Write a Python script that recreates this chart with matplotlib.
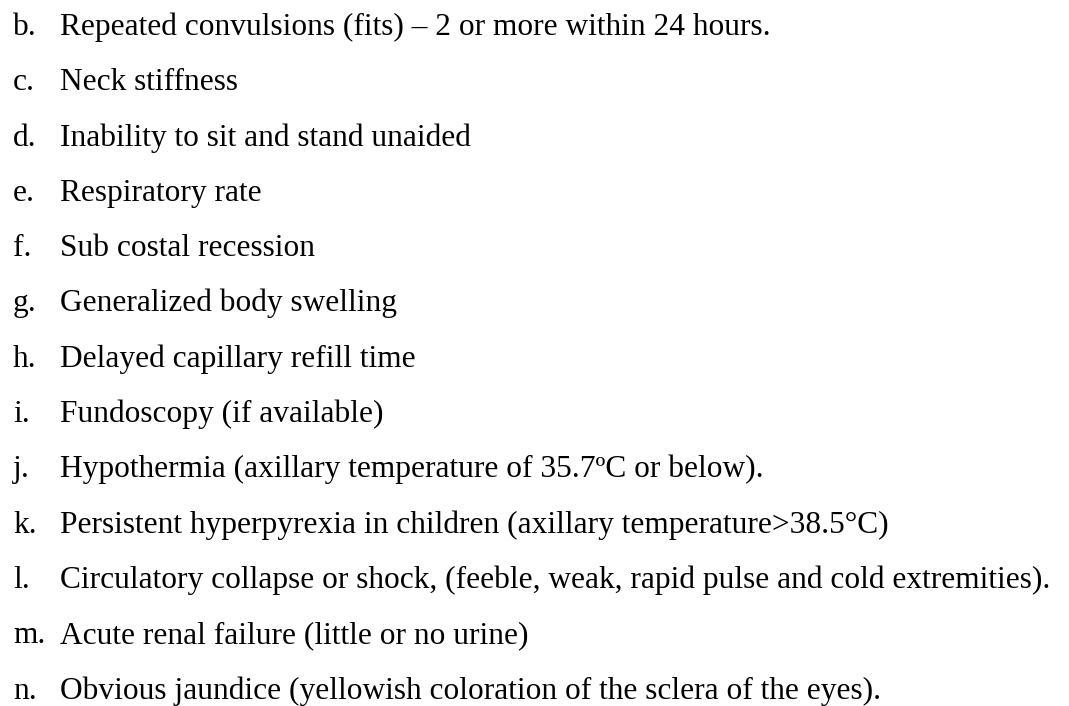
"""
Danger signs list — text-only figure, rendered as a numbered list.
"""
import matplotlib.pyplot as plt

plt.rcParams['font.family'] = ['Liberation Serif', 'DejaVu Serif']

INK = '#000000'

# ── 데이터 ───────────────────────────────────────────────────
letters = ['b.', 'c.', 'd.', 'e.', 'f.', 'g.', 'h.', 'i.', 'j.', 'k.', 'l.', 'm.', 'n.']
items = [
    'Repeated convulsions (fits) \u2013 2 or more within 24 hours.',
    'Neck stiffness',
    'Inability to sit and stand unaided',
    'Respiratory rate',
    'Sub costal recession',
    'Generalized body swelling',
    'Delayed capillary refill time',
    'Fundoscopy (if available)',
    'Hypothermia (axillary temperature of 35.7\u00baC or below).',
    'Persistent hyperpyrexia in children (axillary temperature>38.5\u00b0C)',
    'Circulatory collapse or shock, (feeble, weak, rapid pulse and cold extremities).',
    'Acute renal failure (little or no urine)',
    'Obvious jaundice (yellowish coloration of the sclera of the eyes).',
]

fig = plt.figure(figsize=(10.69, 7.06), dpi=100, facecolor='white')
ax = fig.add_axes([0, 0, 1, 1])
ax.set_xlim(0, 1069)
ax.set_ylim(706, 0)
ax.axis('off')

first, step = 35, 55.3
for i, (lab, txt) in enumerate(zip(letters, items)):
    yb = first + i * step
    ax.text(13, yb, lab, fontsize=22.6, color=INK, va='baseline', ha='left')
    ax.text(60, yb, txt, fontsize=22.6, color=INK, va='baseline', ha='left')

fig.savefig('out.png', dpi=100, facecolor='white')
plt.close(fig)
